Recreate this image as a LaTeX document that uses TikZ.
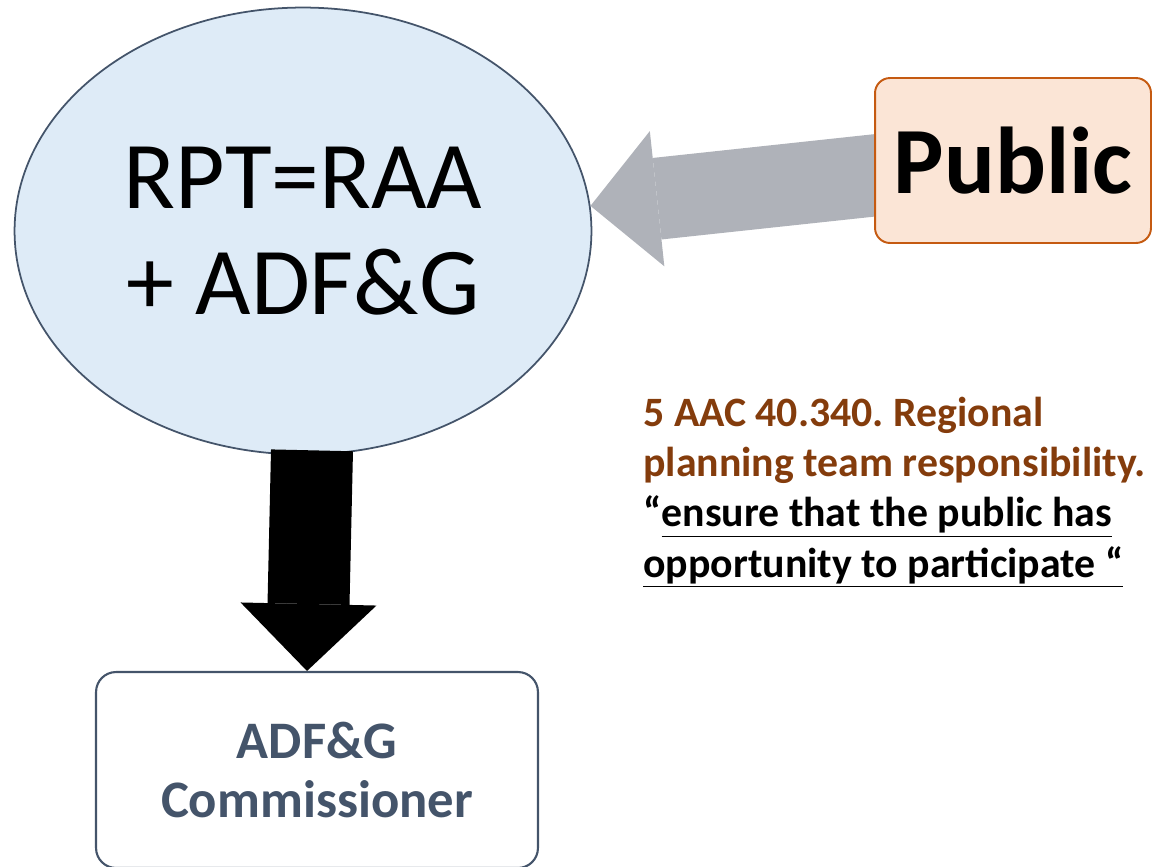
\documentclass[tikz,border=0pt]{standalone}
\usepackage{fontspec}
\setmainfont{Carlito}
\usepackage{xcolor}
\usepackage{tikz}
\usetikzlibrary{shapes.geometric, arrows.meta, positioning, calc, backgrounds}

\definecolor{teamfill}{HTML}{DEEBF7}
\definecolor{slate}{HTML}{44546A}
\definecolor{peach}{HTML}{FBE5D6}
\definecolor{rust}{HTML}{C55A11}
\definecolor{rulebrown}{HTML}{843C0C}
\definecolor{arrowgray}{HTML}{AFB2B9}

\frenchspacing

\begin{document}
\begin{tikzpicture}[
            x=0.02cm, y=-0.02cm,
            team/.style={ellipse, draw=slate, line width=1pt, fill=teamfill, inner sep=0pt,
                minimum width=11.54cm, minimum height=8.94cm, align=center,
                font=\fontsize{54.5}{60}\selectfont},
            publicbox/.style={rectangle, rounded corners=0.3cm, draw=rust, line width=1.1pt, fill=peach,
                minimum width=5.52cm, minimum height=3.3cm, font=\fontsize{54}{60}\selectfont\bfseries},
            headbox/.style={rectangle, rounded corners=0.4cm, draw=slate, line width=1.2pt, fill=white,
                minimum width=8.84cm, minimum height=3.92cm, align=center, text=slate,
                font=\fontsize{30}{34}\selectfont\bfseries},
            ruletext/.style={align=left, inner sep=0pt, font=\fontsize{23.8}{28.5}\selectfont\bfseries},
            bigarrow/.style={line width=1.64cm, -{Triangle[length=1.34cm, width=2.72cm, line width=0pt]}}
        ]
        \useasboundingbox (0,0) rectangle (1153,866);

        \node[team] (team) at (303,231) {RPT=RAA\\+ ADF\&G};
        \node[publicbox] (public) at (1013,160.5) {Public};
        \node[headbox] (commissioner) at (317,770) {ADF\&G\\Commissioner};

        % Input from the public
        \begin{scope}[on background layer]
            \draw[bigarrow, arrowgray] (public.center) -- (team.5);
        \end{scope}

        % Team reports to the commissioner
        \draw[bigarrow, black] ($(team.south)+(9,-5)$) -- ($(commissioner.north)+(-10,0)$);

        % Regulation
        \node[ruletext, anchor=base west] (rule) at (643,577) {%
            \textcolor{rulebrown}{5 AAC 40.340. Regional}\\
            \textcolor{rulebrown}{planning team responsibility.}\\
            ``\underline{ensure that the public has}\\
            \underline{opportunity to participate ``}};

    \end{tikzpicture}
\end{document}
